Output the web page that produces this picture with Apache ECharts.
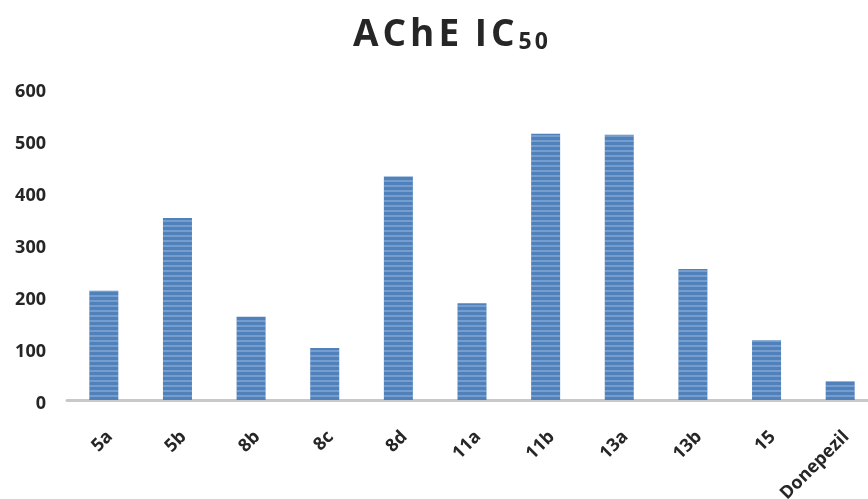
<!DOCTYPE html>
<html>
<head>
<meta charset="utf-8">
<script src="https://cdn.jsdelivr.net/npm/echarts@6/dist/echarts.min.js"></script>
<style>
  html, body { margin: 0; padding: 0; background: #fff; }
  #chart { width: 868px; height: 499px; }
</style>
</head>
<body>
<div id="chart"></div>
<script>
// Compounds and their AChE IC50 values
const categories = ['5a', '5b', '8b', '8c', '8d', '11a', '11b', '13a', '13b', '15', 'Donepezil'];
const ic50Values = [210, 350, 160, 100, 430, 186, 512, 510, 252, 115, 36];
const yTicks = [0, 100, 200, 300, 400, 500, 600];

const chart = echarts.init(document.getElementById('chart'));
const fontFamily = '"Open Sans", "DejaVu Sans", sans-serif';

// Spaced-out title letters, with "50" set as a subscript
const titleMain = 'AChE IC';
const titleSub = '50';
const titleText = titleMain.split('').map(ch => ch === ' ' ? '{sp| }' : '{c|' + ch + '}').join('') +
  titleSub.split('').map(ch => '{s|' + ch + '}').join('');

chart.setOption({
  animation: false,
  title: {
    text: titleText,
    left: 348,
    top: -1,
    textStyle: {
      rich: {
        c: { fontFamily, fontWeight: 'bold', fontSize: 37, color: '#262626', verticalAlign: 'bottom', lineHeight: 50, padding: [0, 4, 0, 0] },
        sp: { fontFamily, fontWeight: 'bold', fontSize: 37, color: '#262626', verticalAlign: 'bottom', lineHeight: 50, padding: [0, 2, 0, 0] },
        s: { fontFamily, fontWeight: 'bold', fontSize: 23, color: '#262626', verticalAlign: 'bottom', lineHeight: 38, padding: [0, 3, 0, 0] }
      }
    }
  },
  grid: { left: 67, right: -9, top: 88, bottom: 99, containLabel: false, outerBoundsMode: 'none' },
  xAxis: {
    type: 'category',
    data: categories,
    axisLine: { lineStyle: { color: '#c8c8c8', width: 3 } },
    axisTick: { show: false },
    axisLabel: {
      rotate: 45,
      margin: 28,
      formatter: v => '{x|' + v + '}',
      rich: {
        x: { fontFamily, fontWeight: 'bold', fontSize: 18, color: '#262626', padding: [17, 0, 0, 0] }
      }
    }
  },
  yAxis: {
    type: 'value',
    min: yTicks[0],
    max: yTicks[yTicks.length - 1],
    interval: 100,
    axisLine: { show: false },
    axisTick: { show: false },
    splitLine: { show: false },
    axisLabel: {
      margin: 21,
      formatter: v => '{y|' + v + '}',
      rich: {
        y: { fontFamily, fontWeight: 'bold', fontSize: 18, color: '#262626', padding: [8, 0, 0, 0] }
      }
    }
  },
  series: [{
    type: 'bar',
    data: ic50Values,
    barWidth: 29,
    itemStyle: {
      color: '#4f81bd',
      decal: {
        symbol: 'rect',
        symbolSize: 1,
        dashArrayX: [[1, 0]],
        dashArrayY: [2, 3],
        rotation: 0,
        color: 'rgba(255,255,255,0.22)'
      }
    }
  }]
});
</script>
</body>
</html>
